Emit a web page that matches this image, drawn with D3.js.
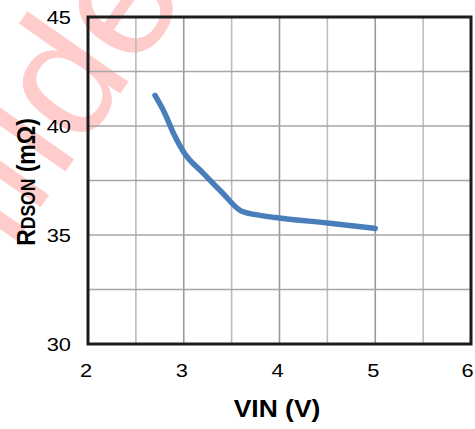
<!DOCTYPE html>
<html>
<head>
<meta charset="utf-8">
<script src="https://cdn.jsdelivr.net/npm/d3@7"></script>
<style>
  html, body { margin: 0; padding: 0; background: #fff; }
  svg { display: block; }
  text { font-family: "Liberation Sans", Arial, sans-serif; }
</style>
</head>
<body>
<svg id="chart" width="475" height="429"></svg>
<script>
// On-resistance vs. input voltage
const vin   = [2.7, 2.8, 2.9, 3.0, 3.2, 3.4, 3.6, 3.8, 4.0, 4.5, 5.0];
const rdson = [41.4, 40.6, 39.6, 38.8, 37.85, 36.95, 36.1, 35.9, 35.78, 35.55, 35.3];

const xTicks = [2, 3, 4, 5, 6];
const yTicks = [30, 35, 40, 45];
const xGrid  = [2.5, 3, 3.5, 4, 4.5, 5, 5.5];
const yGrid  = [32.5, 35, 37.5, 40, 42.5];

const plot = { left: 88, right: 471, top: 17, bottom: 344 };
const sx = 1.15; // horizontal text stretch

const svg = d3.select("#chart");

const x = d3.scaleLinear().domain([2, 6]).range([plot.left, plot.right]);
const y = d3.scaleLinear().domain([30, 45]).range([plot.bottom, plot.top]);

// watermark
svg.append("text")
  .attr("transform", "translate(-147,475) rotate(-55)")
  .attr("font-size", 170)
  .attr("fill", "#ff0000")
  .attr("fill-opacity", 0.2)
  .text("Confidential");

// grid
svg.append("g").selectAll("line").data(xGrid).join("line")
  .attr("x1", d => x(d)).attr("x2", d => x(d))
  .attr("y1", plot.top).attr("y2", plot.bottom)
  .attr("stroke", d => Number.isInteger(d) ? "#999" : "#bdbdbd")
  .attr("stroke-width", 1.6);

svg.append("g").selectAll("line").data(yGrid).join("line")
  .attr("x1", plot.left).attr("x2", plot.right)
  .attr("y1", d => y(d)).attr("y2", d => y(d))
  .attr("stroke", "#a6a6a6")
  .attr("stroke-width", 1.6);

// data line
const line = d3.line().x((d, i) => x(vin[i])).y(d => y(d)).curve(d3.curveMonotoneX);
svg.append("path")
  .attr("d", line(rdson))
  .attr("fill", "none")
  .attr("stroke", "#4a7ebb")
  .attr("stroke-width", 5.5)
  .attr("stroke-linecap", "round")
  .attr("stroke-linejoin", "round");

// frame
svg.append("rect")
  .attr("x", plot.left).attr("y", plot.top)
  .attr("width", plot.right - plot.left).attr("height", plot.bottom - plot.top)
  .attr("fill", "none").attr("stroke", "#1c1c1c").attr("stroke-width", 3);

// y tick labels
svg.append("g").selectAll("text").data(yTicks).join("text")
  .attr("transform", d => `translate(71,${y(d) + 6.8}) scale(${sx},1)`)
  .attr("text-anchor", "end")
  .attr("font-size", 19)
  .attr("fill", "#000")
  .text(d => d);

// x tick labels (kept inside the canvas at the right end)
svg.append("g").selectAll("text").data(xTicks).join("text")
  .attr("transform", d => `translate(${Math.min(x(d) - 2, 467.5)},377) scale(${sx},1)`)
  .attr("text-anchor", "middle")
  .attr("font-size", 19)
  .attr("fill", "#000")
  .text(d => d);

// x title
svg.append("text")
  .attr("transform", `translate(277,417) scale(${sx},1)`)
  .attr("text-anchor", "middle")
  .attr("font-size", 23)
  .attr("font-weight", "bold")
  .text("VIN (V)");

// y title with small-caps subscript
const yt = svg.append("text")
  .attr("transform", `translate(34.5,182) scale(${sx},1) rotate(-90)`)
  .attr("text-anchor", "middle")
  .attr("font-weight", "bold")
  .attr("font-size", 23);
yt.append("tspan").text("R");
yt.append("tspan").attr("font-size", 17.5).text("DSON");
yt.append("tspan").text(" (mΩ)");
</script>
</body>
</html>
